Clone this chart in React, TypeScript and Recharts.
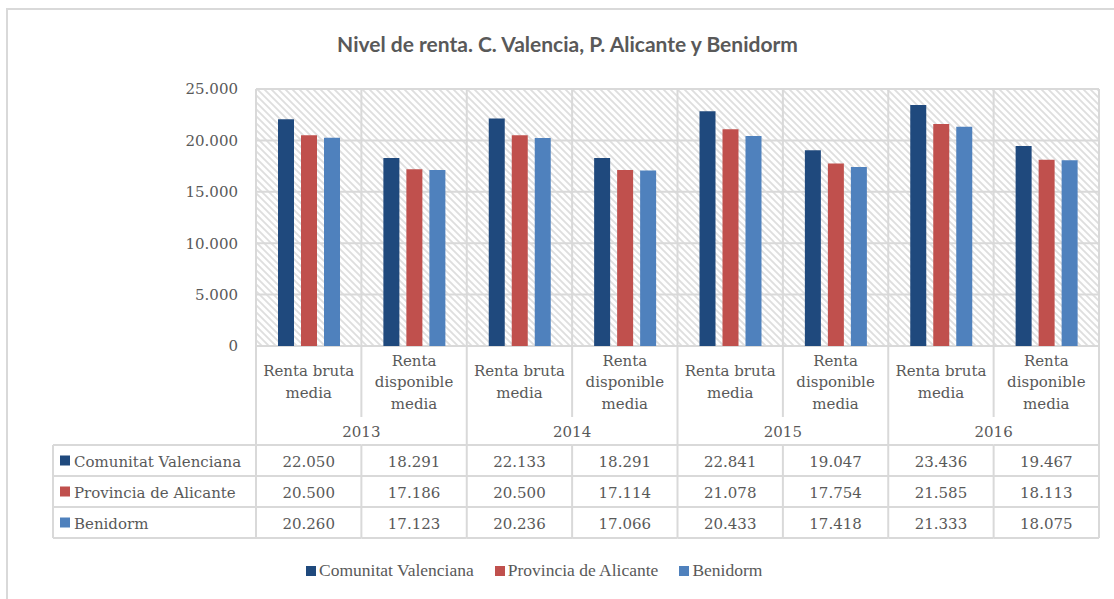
import React from "react";
import { BarChart, Bar, XAxis, YAxis, CartesianGrid } from "recharts";

// ─── Data ─────────────────────────────────────────────────────────────
const years = ["2013", "2014", "2015", "2016"];
const measures = ["Renta bruta media", "Renta disponible media"];
const comunitat = [22050, 18291, 22133, 18291, 22841, 19047, 23436, 19467];
const provincia = [20500, 17186, 20500, 17114, 21078, 17754, 21585, 18113];
const benidorm = [20260, 17123, 20236, 17066, 20433, 17418, 21333, 18075];
const yTicks = [0, 5000, 10000, 15000, 20000, 25000];

const series = [
  { key: "cv", name: "Comunitat Valenciana", color: "#1F497D", values: comunitat },
  { key: "pa", name: "Provincia de Alicante", color: "#C0504D", values: provincia },
  { key: "be", name: "Benidorm", color: "#4F81BD", values: benidorm },
];

const rows = years.flatMap((year) =>
  measures.map((m) => ({ year, measure: m }))
).map((r, i) => ({
  ...r,
  id: `${r.year}-${r.measure}`,
  cv: comunitat[i],
  pa: provincia[i],
  be: benidorm[i],
}));

// ─── Layout ───────────────────────────────────────────────────────────
const W = 1114;
const H = 599;
const PLOT_L = 256;
const PLOT_R = 1099;
const PLOT_T = 89;
const PLOT_B = 346;
const GRID = "#d9d9d9";
const TEXT = "#595959";
const SERIF = "'DejaVu Serif', serif";

const fmt = (v: number) => String(v).replace(/\B(?=(\d{3})+(?!\d))/g, ".");

const wrapLabel = (s: string) =>
  s === "Renta bruta media" ? ["Renta bruta", "media"] : ["Renta", "disponible", "media"];

const ROW_Y = [445, 476, 507, 538];

function TableTick(props: any) {
  const { x, index, payload } = props;
  const bw = (PLOT_R - PLOT_L) / rows.length;
  const left = x - bw / 2;
  const right = x + bw / 2;
  const row = rows[index];
  const lines = wrapLabel(row.measure);
  const lh = 21.5;
  const startY = 382 - ((lines.length - 1) * lh) / 2;
  const endOfYear = index % 2 === 1;
  const textProps = {
    fontFamily: SERIF,
    fontSize: 15,
    fill: TEXT,
    textAnchor: "middle" as const,
    dominantBaseline: "central" as const,
  };
  return (
    <g key={payload?.value}>
      {lines.map((l, i) => (
        <text key={i} x={x} y={startY + i * lh} {...textProps}>{l}</text>
      ))}
      {endOfYear ? (
        <line x1={right} x2={right} y1={PLOT_B} y2={538} stroke={GRID} strokeWidth={2} />
      ) : (
        <>
          <line x1={right} x2={right} y1={PLOT_B} y2={417} stroke={GRID} strokeWidth={2} />
          <line x1={right} x2={right} y1={445} y2={538} stroke={GRID} strokeWidth={2} />
        </>
      )}
      {endOfYear && (
        <text x={left} y={432} {...textProps}>{row.year}</text>
      )}
      {ROW_Y.map((ry) => (
        <line key={ry} x1={left} x2={right} y1={ry} y2={ry} stroke={GRID} strokeWidth={2} />
      ))}
      {series.map((s, si) => (
        <text key={s.key} x={x} y={(ROW_Y[si] + ROW_Y[si + 1]) / 2 + 1} {...textProps}>
          {fmt(s.values[index])}
        </text>
      ))}
      {index === 0 && (
        <g>
          <line x1={left} x2={left} y1={PLOT_B} y2={538} stroke={GRID} strokeWidth={2} />
          <line x1={53} x2={53} y1={445} y2={538} stroke={GRID} strokeWidth={2} />
          {ROW_Y.map((ry) => (
            <line key={ry} x1={53} x2={left} y1={ry} y2={ry} stroke={GRID} strokeWidth={2} />
          ))}
          {series.map((s, si) => {
            const cy = (ROW_Y[si] + ROW_Y[si + 1]) / 2;
            return (
              <g key={s.key}>
                <rect x={60} y={cy - 5} width={10} height={10} fill={s.color} />
                <text x={74} y={cy + 1} fontFamily={SERIF} fontSize={15} fill={TEXT} dominantBaseline="central">
                  {s.name}
                </text>
              </g>
            );
          })}
        </g>
      )}
    </g>
  );
}

export default function App() {
  return (
    <div
      style={{
        position: "absolute",
        left: 0,
        top: 0,
        width: W,
        height: H,
        overflow: "hidden",
        background: "#fff",
      }}
    >
      <svg width={0} height={0} style={{ position: "absolute" }}>
        <defs>
          <pattern id="hatch" width={7} height={7} patternUnits="userSpaceOnUse">
            <rect width={7} height={7} fill="#fff" />
            <path d="M0,0 L7,7 M-3.5,3.5 L3.5,10.5 M3.5,-3.5 L10.5,3.5" stroke="#dedede" strokeWidth={1.8} />
          </pattern>
        </defs>
      </svg>
      <div
        style={{
          position: "absolute",
          left: 6,
          top: 8,
          width: 1130,
          height: 620,
          border: `2px solid ${GRID}`,
        }}
      />
      <div
        style={{
          position: "absolute",
          left: 0,
          width: 1135,
          top: 31,
          textAlign: "center",
          fontFamily: "Lato, sans-serif",
          fontWeight: 700,
          fontSize: 21,
          color: TEXT,
        }}
      >
        Nivel de renta. C. Valencia, P. Alicante y Benidorm
      </div>
      <div style={{ position: "absolute", left: 0, top: 0 }}>
        <BarChart
          width={W}
          height={H}
          data={rows}
          margin={{ top: PLOT_T, right: W - PLOT_R, bottom: 0, left: PLOT_L - 60 }}
          barSize={16}
          barGap={7}
        >
          <CartesianGrid
            fill="url(#hatch)"
            fillOpacity={1}
            stroke={GRID}
            strokeWidth={2}
            verticalCoordinatesGenerator={({ offset }: any) =>
              rows.map((_, i) => offset.left + (i * offset.width) / rows.length).concat(offset.left + offset.width)
            }
          />
          <XAxis
            dataKey="id"
            height={H - PLOT_B}
            axisLine={false}
            tickLine={false}
            tickSize={0}
            tickMargin={0}
            interval={0}
            tick={<TableTick />}
          />
          <YAxis
            width={60}
            domain={[0, 25000]}
            ticks={yTicks}
            axisLine={false}
            tickLine={false}
            tickSize={0}
            tickMargin={18}
            tickFormatter={fmt}
            tick={{ fontFamily: SERIF, fontSize: 15, fill: TEXT }}
          />
          {series.map((s) => (
            <Bar key={s.key} dataKey={s.key} name={s.name} fill={s.color} isAnimationActive={false} />
          ))}
        </BarChart>
      </div>
      <div
        style={{
          position: "absolute",
          left: 306,
          top: 560,
          display: "flex",
          alignItems: "center",
          gap: 21,
          fontFamily: "'Liberation Serif', serif",
          fontSize: 17.5,
          color: TEXT,
        }}
      >
        {series.map((s) => (
          <div key={s.key} style={{ display: "flex", alignItems: "center" }}>
            <span style={{ width: 10, height: 10, background: s.color, marginRight: 3, display: "inline-block" }} />
            <span>{s.name}</span>
          </div>
        ))}
      </div>
    </div>
  );
}
